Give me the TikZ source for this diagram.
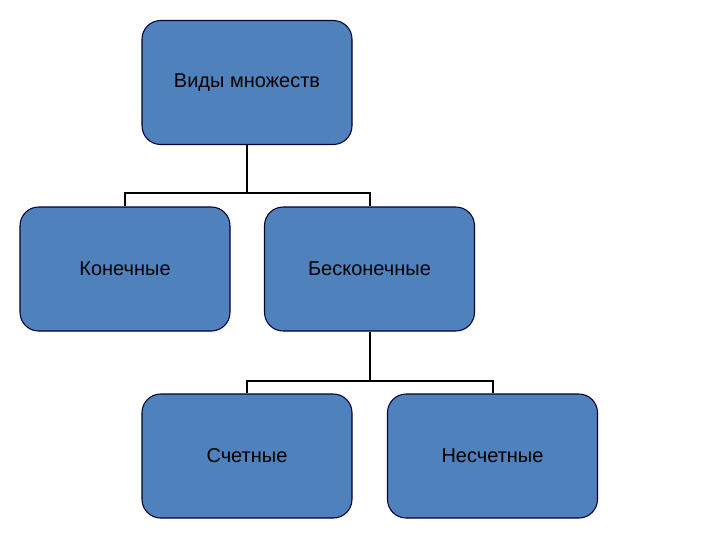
\documentclass[tikz,border=0pt]{standalone}
\usepackage{fontspec}
\setmainfont{Liberation Sans}
\begin{document}
\begin{tikzpicture}[x=0.75pt,y=-0.75pt,
  box/.style={draw=black!80!blue,line width=0.8pt,fill={rgb,255:red,79;green,129;blue,189},rounded corners=14pt,minimum width=210*0.75pt,minimum height=124*0.75pt,font=\fontsize{15}{18}\selectfont,inner sep=0pt},
  con/.style={draw=black,line width=1.5pt}]
\useasboundingbox (0,0) rectangle (720,540);
\node[box] (a) at (247,82.5) {Виды множеств};
\node[box] (b) at (125,269) {Конечные};
\node[box] (c) at (369.5,269) {Бесконечные};
\node[box] (d) at (247,456) {Счетные};
\node[box] (e) at (492.5,456) {Несчетные};
\coordinate (j1) at (247,193);
\coordinate (j2) at (369.5,381);
\draw[con] (a.south) -- (j1) (b.north) |- (j1) -| (c.north);
\draw[con] (c.south) -- (j2) (d.north) |- (j2) -| (e.north);
\end{tikzpicture}
\end{document}
